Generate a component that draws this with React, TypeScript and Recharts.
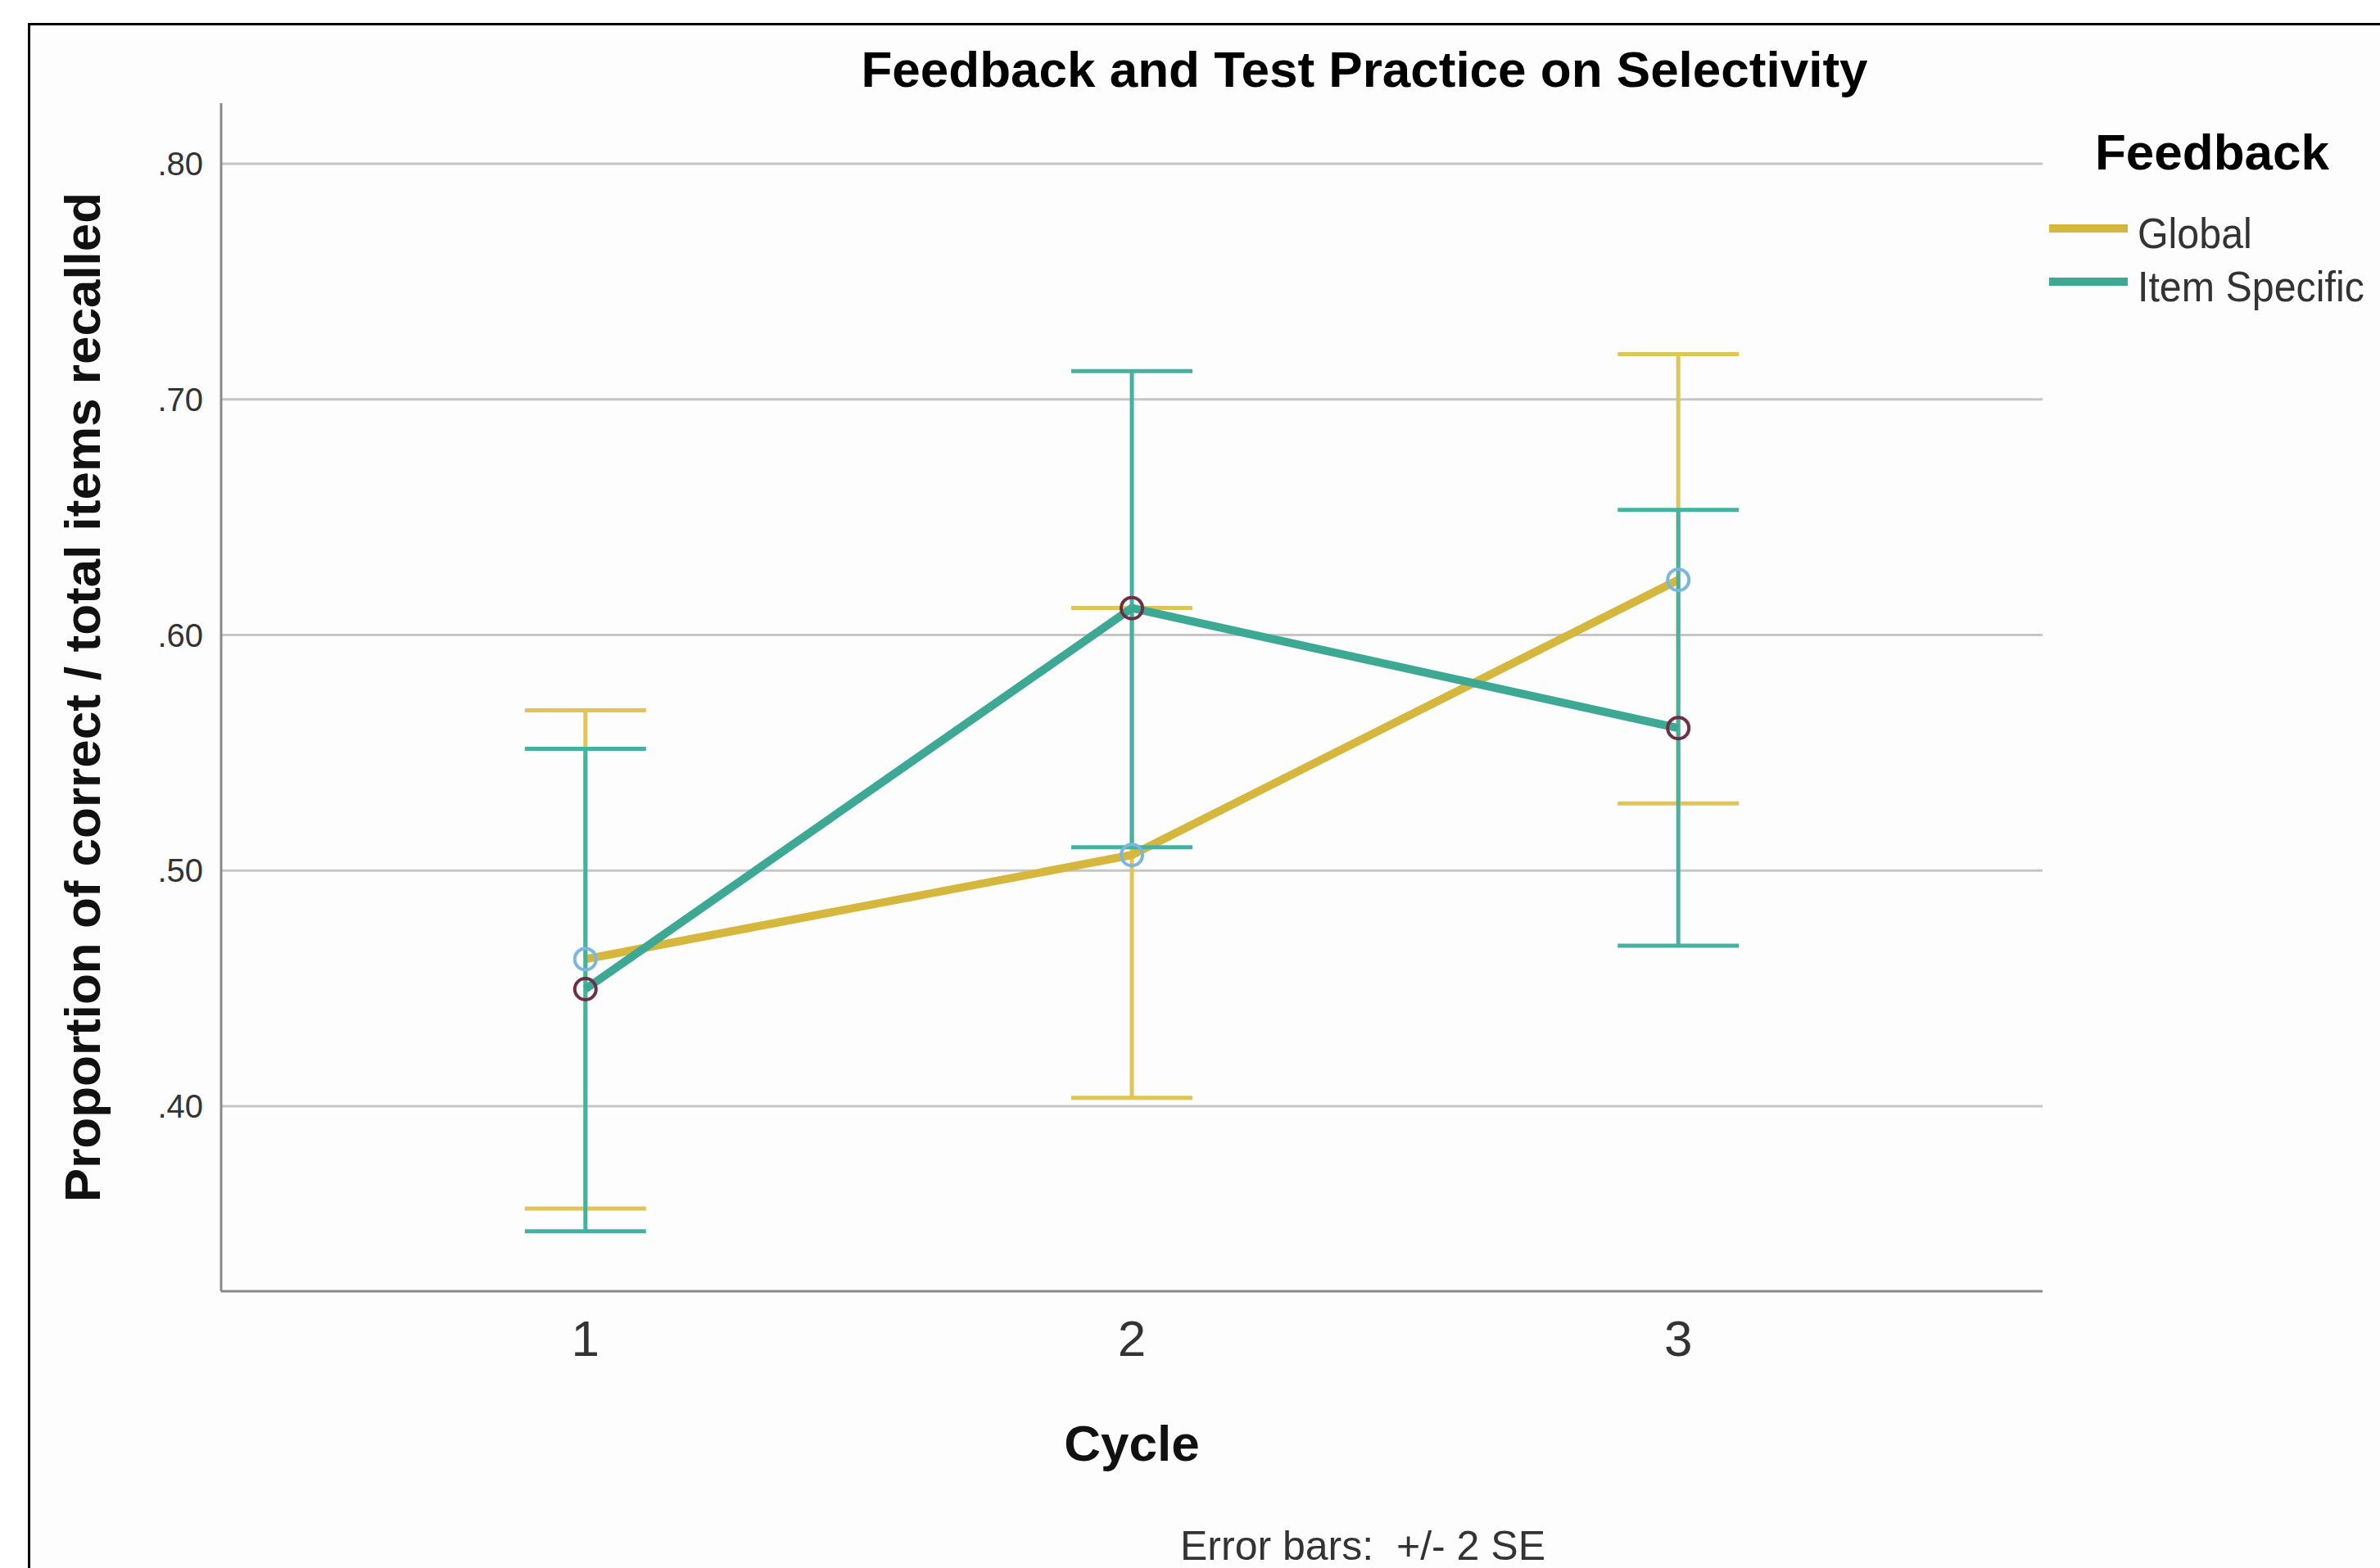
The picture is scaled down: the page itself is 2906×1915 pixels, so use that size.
import {
  ComposedChart,
  Line,
  XAxis,
  YAxis,
  CartesianGrid,
  ErrorBar,
  Label,
} from "recharts";

const cycles = [1, 2, 3];

const globalMean = [0.4624, 0.5066, 0.6234];
const globalLow = [0.3566, 0.4036, 0.5285];
const globalHigh = [0.5680, 0.6115, 0.7192];

const itemMean = [0.4497, 0.6114, 0.5605];
const itemLow = [0.3469, 0.5099, 0.4681];
const itemHigh = [0.5517, 0.7120, 0.6531];

const yTicks = [0.4, 0.5, 0.6, 0.7, 0.8];

const series = [
  { key: "global", name: "Global", line: "#D6B73E", bar: "#E0C457", marker: "#7AB6DE" },
  { key: "item", name: "Item Specific", line: "#3DA995", bar: "#45B2A1", marker: "#6E2F46" },
];

const data = cycles.map((c, i) => ({
  cycle: c,
  global: globalMean[i],
  globalErr: [globalMean[i] - globalLow[i], globalHigh[i] - globalMean[i]],
  item: itemMean[i],
  itemErr: [itemMean[i] - itemLow[i], itemHigh[i] - itemMean[i]],
}));

const FONT = '"Liberation Sans", Arial, sans-serif';

const fmtTick = (v: number) => v.toFixed(2).replace(/^0/, "");

export default function App() {
  return (
    <div style={{ position: "absolute", left: 0, top: 0, width: 2906, height: 1915, background: "#fff", fontFamily: FONT, overflow: "hidden" }}>
      <div
        style={{
          position: "absolute",
          left: 34,
          top: 28,
          right: -10,
          bottom: -10,
          borderTop: "3px solid #000",
          borderLeft: "3px solid #000",
          background: "#fdfdfd",
        }}
      />
      <div style={{ position: "absolute", left: 0, top: 0 }}>
        <ComposedChart
          width={2906}
          height={1915}
          data={data}
          margin={{ top: 126, right: 412, bottom: 238, left: 70 }}
        >
          <CartesianGrid vertical={false} horizontalValues={yTicks} stroke="#c6c6c6" strokeWidth={3} />
          <XAxis
            type="number"
            dataKey="cycle"
            domain={[1 / 3, 11 / 3]}
            ticks={cycles}
            allowDataOverflow
            height={100}
            tickLine={false}
            tickSize={0}
            tickMargin={35}
            axisLine={{ stroke: "#8a8a8a", strokeWidth: 3 }}
            tick={{ fontSize: 62, fill: "#333", fontFamily: FONT }}
          >
            <Label
              value="Cycle"
              position="bottom"
              offset={63}
              style={{ fontSize: 62, fontWeight: 700, fill: "#111", fontFamily: FONT }}
            />
          </XAxis>
          <YAxis
            type="number"
            domain={[0.32146, 0.82572]}
            ticks={yTicks}
            allowDataOverflow
            width={200}
            tickLine={false}
            tickSize={0}
            tickMargin={22}
            tickFormatter={fmtTick}
            axisLine={{ stroke: "#8a8a8a", strokeWidth: 3 }}
            tick={{ fontSize: 40, fill: "#333", fontFamily: FONT }}
          >
            <Label
              value="Proportion of correct / total items recalled"
              angle={-90}
              position="insideLeft"
              offset={30}
              style={{ fontSize: 62, fontWeight: 700, fill: "#111", fontFamily: FONT, textAnchor: "middle" }}
            />
          </YAxis>
          {series.map((s) => (
            <Line
              key={s.key}
              type="linear"
              dataKey={s.key}
              name={s.name}
              stroke={s.line}
              strokeWidth={10}
              isAnimationActive={false}
              activeDot={false}
              dot={{ r: 13, stroke: s.marker, strokeWidth: 4, fill: "none" }}
            >
              <ErrorBar
                dataKey={s.key + "Err"}
                direction="y"
                width={74}
                stroke={s.bar}
                strokeWidth={5}
                isAnimationActive={false}
              />
            </Line>
          ))}
        </ComposedChart>
      </div>

      <div
        style={{
          position: "absolute",
          left: 1666,
          top: 54,
          transform: "translateX(-50%)",
          fontSize: 62,
          lineHeight: 1,
          fontWeight: 700,
          color: "#000",
          whiteSpace: "nowrap",
        }}
      >
        Feedback and Test Practice on Selectivity
      </div>

      <div style={{ position: "absolute", left: 2558, top: 155, fontSize: 62, lineHeight: 1, fontWeight: 700, color: "#000", whiteSpace: "nowrap" }}>
        Feedback
      </div>
      {series.map((s, i) => (
        <div key={s.key}>
          <div style={{ position: "absolute", left: 2502, top: 274 + i * 65, width: 96, height: 10, background: s.line }} />
          <div
            style={{
              position: "absolute",
              left: 2610,
              top: 259 + i * 65,
              fontSize: 52,
              lineHeight: 1,
              color: "#333",
              whiteSpace: "nowrap",
              transform: "scaleX(0.93)",
              transformOrigin: "left center",
            }}
          >
            {s.name}
          </div>
        </div>
      ))}

      <div
        style={{
          position: "absolute",
          left: 1664,
          top: 1863,
          transform: "translateX(-50%)",
          fontSize: 50,
          lineHeight: 1,
          color: "#333",
          whiteSpace: "pre",
        }}
      >
        {"Error bars:  +/- 2 SE"}
      </div>
    </div>
  );
}
